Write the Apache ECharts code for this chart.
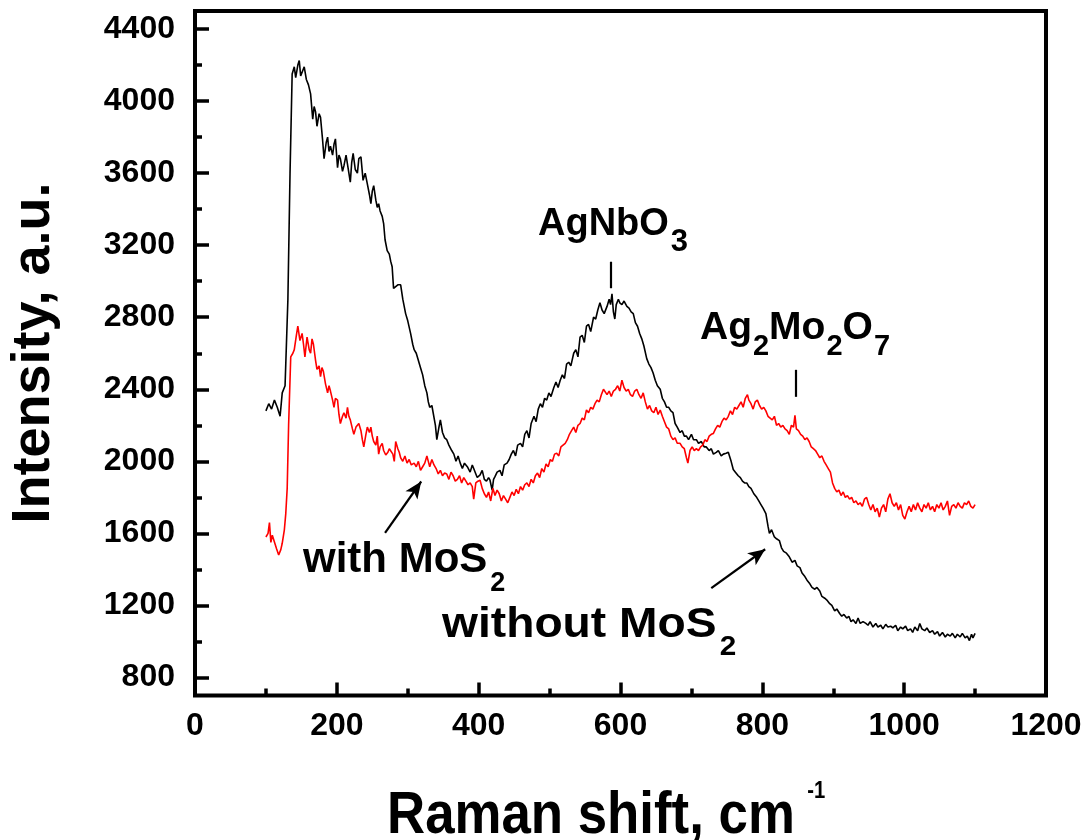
<!DOCTYPE html>
<html>
<head>
<meta charset="utf-8">
<script src="https://cdn.jsdelivr.net/npm/echarts@6/dist/echarts.min.js"></script>
<style>
  html, body { margin: 0; padding: 0; background: #fff; }
  #chart { width: 1090px; height: 840px; }
</style>
</head>
<body>
<div id="chart"></div>
<script>
// Raman spectra, [shift (cm-1), intensity (a.u.)]
const withoutMoS2 = [
  [100,2280],[104,2320],[108,2290],[112,2340],[116,2300],[120,2250],[123,2380],[127,2420],[131,2900],[134,3600],
  [137,4150],[140,4190],[142,4130],[145,4200],[147,4225],[149,4140],[152,4170],[154,4190],[157,4120],[160,4090],
  [163,4040],[166,3900],[168,3970],[170,3940],[172,3860],[175,3930],[177,3910],[180,3780],[182,3680],[185,3770],
  [187,3800],[189,3720],[191,3750],[194,3700],[196,3760],[198,3790],[201,3630],[203,3700],[205,3680],[208,3610],
  [210,3640],[213,3700],[215,3690],[217,3600],[219,3550],[221,3660],[223,3710],[226,3620],[229,3600],[231,3680],
  [234,3690],[237,3560],[240,3600],[243,3540],[246,3480],[248,3430],[250,3500],[252,3530],[255,3450],[257,3410],
  [259,3430],[261,3390],[264,3360],[266,3320],[268,3230],[271,3170],[274,3150],[276,3110],[278,3080],[280,2960],
  [283,2970],[286,2980],[290,2980],[293,2900],[297,2820],[300,2780],[304,2710],[307,2650],[309,2620],[312,2600],
  [315,2560],[318,2520],[321,2480],[324,2420],[327,2380],[329,2330],[331,2300],[334,2310],[336,2300],[339,2200],
  [341,2120],[344,2190],[346,2230],[349,2160],[352,2130],[355,2120],[358,2090],[362,2060],[365,2040],[368,2000],
  [371,2030],[374,1990],[377,1960],[380,1990],[384,1970],[388,1940],[391,1980],[393,1960],[396,1930],[398,1910],
  [402,1925],[405,1950],[408,1900],[411,1890],[414,1910],[416,1895],[419,1840],[421,1900],[423,1915],[426,1940],
  [430,1950],[433,1920],[436,1980],[440,1990],[443,2010],[446,2040],[449,2060],[452,2030],[455,2090],[459,2100],
  [462,2080],[465,2150],[468,2170],[471,2130],[474,2210],[478,2250],[481,2220],[484,2290],[487,2320],[490,2300],
  [493,2350],[496,2340],[499,2380],[502,2360],[506,2410],[509,2440],[512,2410],[515,2450],[518,2480],[521,2460],
  [524,2540],[527,2550],[530,2530],[534,2600],[537,2620],[540,2580],[543,2690],[546,2700],[549,2660],[552,2750],
  [555,2760],[558,2720],[562,2800],[565,2790],[568,2840],[571,2880],[574,2840],[577,2820],[581,2860],[584,2900],
  [586,2870],[588,2930],[590,2830],[592,2790],[594,2870],[597,2900],[599,2880],[602,2870],[605,2890],[609,2860],
  [612,2850],[615,2830],[618,2820],[621,2770],[624,2750],[627,2710],[630,2680],[633,2640],[637,2570],[640,2540],
  [643,2520],[646,2490],[649,2450],[652,2420],[656,2400],[659,2350],[662,2330],[665,2300],[668,2300],[671,2280],
  [674,2270],[677,2210],[680,2190],[684,2160],[687,2170],[690,2140],[693,2140],[696,2120],[700,2150],[703,2120],
  [707,2120],[710,2100],[714,2110],[718,2080],[721,2080],[725,2060],[728,2070],[731,2040],[735,2050],[738,2060],
  [742,2030],[745,2040],[749,2045],[752,2050],[756,2000],[759,1955],[762,1940],[766,1920],[769,1910],[772,1890],
  [775,1880],[778,1880],[781,1860],[784,1850],[788,1820],[792,1800],[795,1780],[798,1760],[801,1740],[805,1710],
  [808,1640],[810,1600],[813,1620],[817,1580],[820,1570],[824,1560],[827,1520],[830,1500],[834,1490],[838,1470],
  [842,1440],[846,1450],[849,1420],[853,1410],[856,1380],[860,1360],[863,1340],[867,1320],[870,1300],[874,1290],
  [877,1300],[881,1280],[884,1250],[888,1240],[891,1230],[895,1210],[898,1200],[902,1170],[905,1180],[909,1155],
  [912,1140],[915,1150],[919,1130],[922,1140],[925,1110],[928,1120],[932,1100],[935,1130],[938,1100],[942,1110],
  [946,1100],[949,1090],[952,1110],[956,1080],[960,1100],[963,1080],[967,1090],[970,1070],[974,1095],[977,1080],
  [981,1085],[984,1075],[988,1090],[991,1060],[995,1080],[998,1070],[1002,1085],[1005,1060],[1009,1070],[1012,1050],
  [1015,1080],[1019,1060],[1022,1100],[1025,1070],[1029,1060],[1032,1075],[1036,1050],[1040,1060],[1043,1040],[1047,1055],
  [1050,1030],[1054,1050],[1058,1025],[1061,1040],[1065,1030],[1068,1045],[1072,1020],[1075,1040],[1079,1025],[1082,1045],
  [1086,1020],[1089,1030],[1092,1005],[1095,1040],[1097,1020],[1100,1045]
];

const withMoS2 = [
  [100,1580],[103,1600],[105,1660],[107,1550],[109,1590],[111,1565],[113,1540],[115,1515],[118,1480],[121,1510],
  [123,1545],[126,1620],[128,1710],[130,1850],[132,2200],[135,2580],[138,2600],[140,2620],[143,2700],[145,2750],
  [148,2670],[151,2710],[153,2650],[155,2580],[158,2690],[161,2620],[163,2600],[165,2680],[167,2650],[170,2560],
  [172,2510],[175,2530],[177,2470],[179,2520],[181,2500],[184,2430],[187,2380],[189,2420],[191,2390],[194,2340],
  [196,2300],[198,2350],[201,2340],[203,2260],[205,2210],[208,2250],[210,2270],[213,2240],[215,2300],[217,2250],
  [219,2230],[222,2180],[224,2150],[227,2190],[229,2200],[231,2210],[234,2170],[236,2120],[238,2080],[241,2150],
  [243,2190],[246,2160],[248,2190],[250,2140],[252,2110],[255,2090],[257,2140],[259,2040],[261,2080],[264,2100],
  [266,2060],[269,2035],[272,2050],[274,2070],[276,2075],[279,2040],[281,2000],[283,2110],[286,2070],[288,2050],
  [290,2020],[293,2000],[296,2030],[299,1990],[302,2010],[305,1980],[309,1990],[312,1970],[315,2000],[318,1950],
  [321,1970],[324,1990],[327,2030],[329,2000],[331,1970],[334,2010],[337,1980],[340,1960],[343,1930],[346,1950],
  [349,1920],[352,1935],[355,1930],[358,1900],[361,1940],[364,1920],[367,1890],[370,1900],[373,1920],[376,1880],
  [379,1910],[382,1890],[385,1870],[388,1880],[391,1860],[393,1790],[396,1880],[399,1890],[402,1895],[405,1850],
  [408,1820],[411,1800],[414,1830],[417,1780],[420,1850],[423,1810],[426,1840],[429,1820],[432,1780],[435,1810],
  [438,1790],[441,1770],[444,1800],[447,1830],[450,1810],[453,1845],[456,1820],[459,1860],[462,1840],[465,1870],
  [468,1880],[471,1860],[474,1900],[477,1880],[480,1920],[483,1935],[486,1910],[489,1960],[492,1940],[495,1985],
  [498,1970],[501,2010],[504,2000],[507,2040],[510,2045],[513,2030],[516,2080],[519,2090],[522,2100],[525,2120],
  [528,2150],[531,2170],[534,2190],[537,2160],[540,2200],[543,2210],[546,2240],[549,2230],[552,2285],[555,2270],
  [558,2300],[561,2290],[564,2320],[567,2340],[570,2330],[573,2370],[576,2400],[578,2410],[581,2370],[584,2390],
  [587,2360],[590,2390],[593,2400],[596,2420],[599,2390],[602,2450],[605,2410],[608,2390],[611,2400],[614,2370],
  [617,2360],[620,2390],[623,2400],[626,2370],[629,2350],[632,2380],[635,2330],[638,2290],[641,2310],[644,2280],
  [647,2270],[650,2300],[653,2260],[656,2285],[659,2250],[662,2220],[665,2190],[668,2180],[671,2140],[674,2120],
  [677,2130],[680,2100],[684,2100],[687,2080],[690,2070],[693,2020],[695,1990],[698,2060],[701,2080],[704,2060],
  [707,2070],[710,2060],[713,2080],[716,2090],[719,2120],[722,2110],[725,2140],[728,2150],[731,2155],[734,2180],
  [737,2200],[740,2190],[743,2220],[746,2240],[749,2230],[752,2250],[755,2280],[758,2260],[761,2300],[764,2290],
  [767,2310],[770,2330],[773,2300],[776,2350],[779,2370],[781,2340],[784,2320],[787,2290],[790,2330],[793,2340],
  [796,2310],[799,2290],[802,2300],[805,2280],[808,2250],[811,2240],[814,2230],[817,2250],[820,2200],[823,2210],
  [826,2190],[829,2200],[832,2180],[835,2170],[838,2150],[841,2200],[844,2190],[846,2255],[848,2180],[851,2170],
  [854,2150],[857,2140],[860,2120],[863,2130],[866,2110],[869,2080],[872,2070],[875,2060],[878,2040],[881,2020],
  [884,2030],[887,2000],[890,1980],[893,1960],[896,1940],[899,1880],[902,1850],[905,1830],[908,1840],[911,1810],
  [914,1830],[917,1800],[920,1810],[923,1790],[926,1800],[929,1770],[932,1780],[935,1760],[938,1770],[941,1750],
  [944,1790],[947,1800],[950,1760],[953,1730],[956,1760],[959,1720],[962,1740],[965,1690],[968,1740],[971,1760],
  [974,1720],[977,1790],[980,1820],[983,1770],[986,1750],[989,1770],[992,1730],[995,1760],[998,1700],[1001,1680],
  [1004,1720],[1007,1750],[1010,1720],[1013,1760],[1016,1730],[1019,1770],[1022,1740],[1025,1720],[1028,1760],[1031,1740],
  [1034,1770],[1037,1730],[1040,1750],[1043,1720],[1046,1760],[1049,1740],[1052,1770],[1055,1730],[1058,1750],[1061,1780],
  [1064,1700],[1067,1750],[1070,1760],[1073,1740],[1076,1770],[1079,1750],[1082,1740],[1085,1770],[1088,1760],[1091,1780],
  [1094,1750],[1097,1740],[1100,1760]
];

// Axis ticks
const xMajorTicks = [0, 200, 400, 600, 800, 1000, 1200];
const xMinorTicks = [100, 300, 500, 700, 900, 1100];
const yMajorTicks = [800, 1200, 1600, 2000, 2400, 2800, 3200, 3600, 4000, 4400];
const yMinorTicks = [1000, 1400, 1800, 2200, 2600, 3000, 3400, 3800, 4200];

// Peak markers and pointer arrows, in data units: [[x1, y1], [x2, y2]]
const peakAgNbO3 = [[586, 3108], [586, 2961]];
const peakAg2Mo2O7 = [[846.5, 2508], [846.5, 2358]];
const arrowWith = [[268, 1603], [319, 1888]];
const arrowWithout = [[728, 1296], [804, 1512]];

const FONT = "'Liberation Sans', Arial, Helvetica, sans-serif";
const measureCtx = document.createElement('canvas').getContext('2d');
function textWidth(str, size) {
  measureCtx.font = 'bold ' + size + 'px ' + FONT;
  return measureCtx.measureText(str).width;
}

// Text with subscript / superscript runs, placed by its left edge and baseline.
// parts: plain strings, or {s: '2', dy: 15, gap: 2} for shifted runs.
function scriptText(left, baseline, parts, size, smallSize, scaleX) {
  const children = [];
  let cx = 0;
  parts.forEach(function (p) {
    const shifted = typeof p !== 'string';
    const str = shifted ? p.s : p;
    const fs = shifted ? smallSize : size;
    const dy = shifted ? p.dy : 0;
    if (shifted && p.gap) cx += p.gap;
    children.push({
      type: 'text',
      x: cx,
      y: dy - 0.3465 * fs,
      style: {
        text: str, font: 'bold ' + fs + 'px ' + FONT, fill: '#000',
        textAlign: 'left', textVerticalAlign: 'middle', align: 'left', verticalAlign: 'middle'
      }
    });
    cx += textWidth(str, fs);
  });
  return { type: 'group', x: left, y: baseline, scaleX: scaleX || 1, children: children };
}

function segment(pair, withArrow) {
  return [
    { coord: pair[0], symbol: 'none' },
    { coord: pair[1], symbol: withArrow ? 'arrow' : 'none', symbolSize: [11, 17] }
  ];
}

const chart = echarts.init(document.getElementById('chart'), null, { renderer: 'canvas' });

const tickLabel = {
  color: '#000', fontSize: 32, fontWeight: 'bold', fontFamily: FONT,
  formatter: function (v) { return String(v); }
};
const tickLine = { color: '#000', width: 3.5 };

chart.setOption({
  animation: false,
  backgroundColor: '#fff',
  grid: {
    left: 195, top: 11, width: 851, height: 684.5,
    show: true, borderColor: '#000', borderWidth: 4, backgroundColor: 'transparent'
  },
  xAxis: [
    {
      type: 'value', min: 0, max: 1200, interval: 200,
      axisLine: { show: false },
      axisTick: { show: true, inside: true, length: 13, customValues: xMajorTicks, lineStyle: tickLine },
      splitLine: { show: false },
      axisLabel: Object.assign({ margin: 15, customValues: xMajorTicks }, tickLabel)
    },
    {
      type: 'value', min: 0, max: 1200, position: 'bottom',
      axisLine: { show: false },
      axisTick: { show: true, inside: true, length: 7, customValues: xMinorTicks, lineStyle: tickLine },
      splitLine: { show: false },
      axisLabel: { show: false }
    }
  ],
  yAxis: [
    {
      type: 'value', min: 700, max: 4500,
      axisLine: { show: false },
      axisTick: { show: true, inside: true, length: 14, customValues: yMajorTicks, lineStyle: tickLine },
      splitLine: { show: false },
      axisLabel: Object.assign({ margin: 20, customValues: yMajorTicks }, tickLabel)
    },
    {
      type: 'value', min: 700, max: 4500, position: 'left',
      axisLine: { show: false },
      axisTick: { show: true, inside: true, length: 7, customValues: yMinorTicks, lineStyle: tickLine },
      splitLine: { show: false },
      axisLabel: { show: false }
    }
  ],
  series: [
    {
      name: 'without MoS2', type: 'line', data: withoutMoS2,
      showSymbol: false, symbol: 'none', smooth: false,
      lineStyle: { color: '#000', width: 1.6 },
      z: 2,
      markLine: {
        silent: true, animation: false,
        label: { show: false },
        lineStyle: { color: '#000', width: 2.2, type: 'solid' },
        data: [segment(peakAgNbO3, false), segment(peakAg2Mo2O7, false),
               segment(arrowWith, true), segment(arrowWithout, true)]
      }
    },
    {
      name: 'with MoS2', type: 'line', data: withMoS2,
      showSymbol: false, symbol: 'none', smooth: false,
      lineStyle: { color: '#ff0000', width: 1.6 },
      z: 3
    }
  ],
  graphic: [
    // axis titles
    {
      type: 'text', x: 34, y: 353, rotation: Math.PI / 2,
      style: {
        text: 'Intensity, a.u.', font: 'bold 54px ' + FONT, fill: '#000',
        textAlign: 'center', textVerticalAlign: 'middle', align: 'center', verticalAlign: 'middle'
      }
    },
    scriptText(387, 837, ['Raman shift, cm', { s: '-1', dy: -37, gap: 14 }], 60, 23, 0.88),
    // peak and sample labels
    scriptText(538, 238, ['AgNbO', { s: '3', dy: 15, gap: 2 }], 38, 31),
    scriptText(700, 342, ['Ag', { s: '2', dy: 15, gap: 1 }, 'Mo', { s: '2', dy: 15, gap: 1 }, 'O', { s: '7', dy: 15, gap: 1 }], 39, 29),
    scriptText(303, 575, ['with MoS', { s: '2', dy: 18, gap: 3 }], 42, 27),
    scriptText(442, 640, ['without MoS', { s: '2', dy: 17, gap: 3 }], 42, 27, 1.1)
  ]
});
</script>
</body>
</html>
